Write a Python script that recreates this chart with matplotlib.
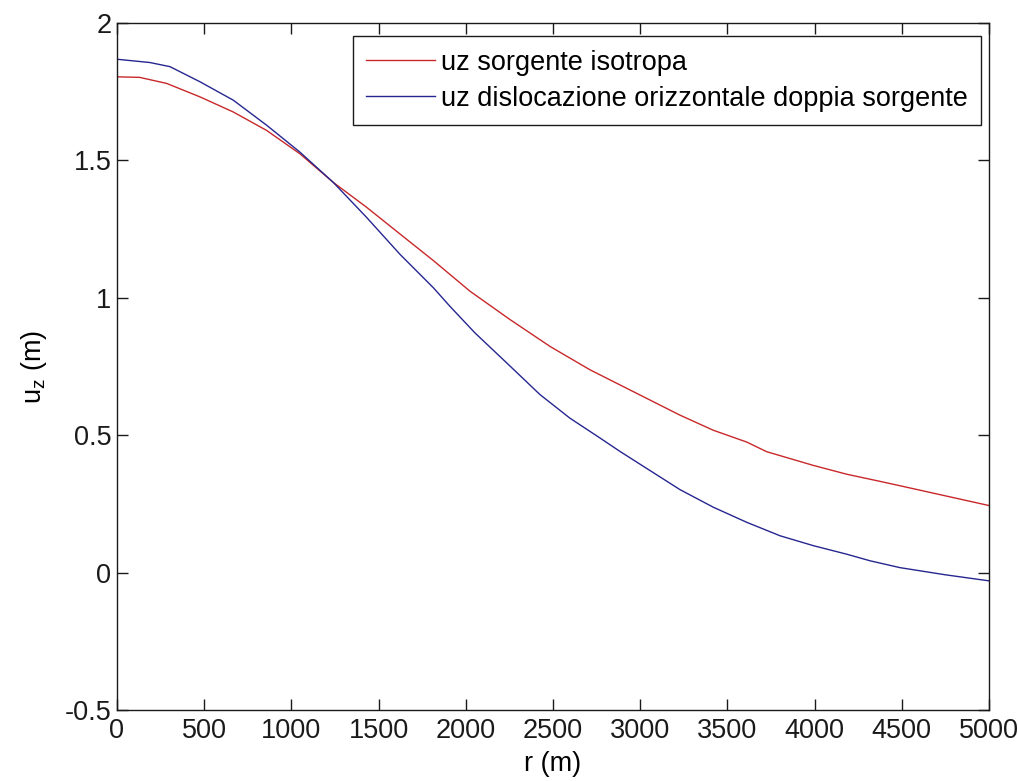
"""
Vertical surface displacement u_z versus radial distance r
for two source models.
"""

import matplotlib
matplotlib.use('Agg')
import matplotlib.pyplot as plt

plt.rcParams['font.family'] = ['Liberation Sans', 'DejaVu Sans']
plt.rcParams['mathtext.default'] = 'regular'

# Radial distance (m) and displacement (m) for the isotropic source
r_iso = [0, 130, 285, 476, 667, 858, 1049, 1240, 1432, 1623, 1815, 2024,
         2253, 2483, 2712, 3056, 3228, 3419, 3611, 3725, 3993, 4184, 4375,
         4490, 5000]
uz_iso = [1.804, 1.802, 1.780, 1.731, 1.676, 1.609, 1.524, 1.420, 1.329, 1.232,
          1.135, 1.024, 0.921, 0.823, 0.738, 0.628, 0.573, 0.518, 0.475, 0.440,
          0.390, 0.358, 0.332, 0.316, 0.244]

# Radial distance (m) and displacement (m) for the horizontal double-source dislocation
r_disl = [0, 189, 304, 476, 667, 858, 1049, 1240, 1432, 1623, 1815, 1909,
          2053, 2253, 2425, 2597, 2769, 2884, 3228, 3419, 3611, 3802, 3993,
          4184, 4318, 4490, 4750, 5000]
uz_disl = [1.868, 1.856, 1.841, 1.786, 1.719, 1.628, 1.530, 1.420, 1.292, 1.158,
           1.036, 0.969, 0.872, 0.752, 0.648, 0.562, 0.490, 0.441, 0.302, 0.238,
           0.183, 0.134, 0.098, 0.067, 0.043, 0.018, -0.008, -0.030]

labels = ['uz sorgente isotropa', 'uz dislocazione orizzontale doppia sorgente']
x_ticks = [0, 500, 1000, 1500, 2000, 2500, 3000, 3500, 4000, 4500, 5000]
y_ticks = [-0.5, 0, 0.5, 1, 1.5, 2]

FS = 19.5

fig = plt.figure(figsize=(10.18, 7.81), dpi=100)
ax = fig.add_axes([0.1149, 0.0909, 0.8566, 0.8797])

ax.plot(r_iso, uz_iso, color='#c8282a', linewidth=1.0, label=labels[0])
ax.plot(r_disl, uz_disl, color='#262690', linewidth=1.0, label=labels[1])

ax.set_xlim(0, 5000)
ax.set_ylim(-0.5, 2)
ax.set_xticks(x_ticks)
ax.set_yticks(y_ticks)
ax.set_xticklabels([str(t) for t in x_ticks])
ax.set_yticklabels(['-0.5', '0', '0.5', '1', '1.5', '2'])

ax.tick_params(direction='in', length=8, width=1.0, top=True, right=True,
               labelsize=FS, colors='#1a1a1a')
ax.tick_params(axis='x', pad=6)
ax.tick_params(axis='y', pad=4)
for s in ax.spines.values():
    s.set_linewidth(1.0)
    s.set_color('#1a1a1a')

ax.set_xlabel('r (m)', fontsize=FS, labelpad=5)
ax.set_ylabel('u$_z$ (m)', fontsize=FS, labelpad=11)

leg = ax.legend(loc='upper right', bbox_to_anchor=(0.9637, 0.9539),
                bbox_transform=fig.transFigure, borderaxespad=0,
                fontsize=FS, fancybox=False, framealpha=1, edgecolor='#1a1a1a',
                handlelength=2.55, handletextpad=0.2, borderpad=0.5,
                labelspacing=0.38)
leg.get_frame().set_linewidth(1.0)

fig.savefig('out.png', dpi=100)
